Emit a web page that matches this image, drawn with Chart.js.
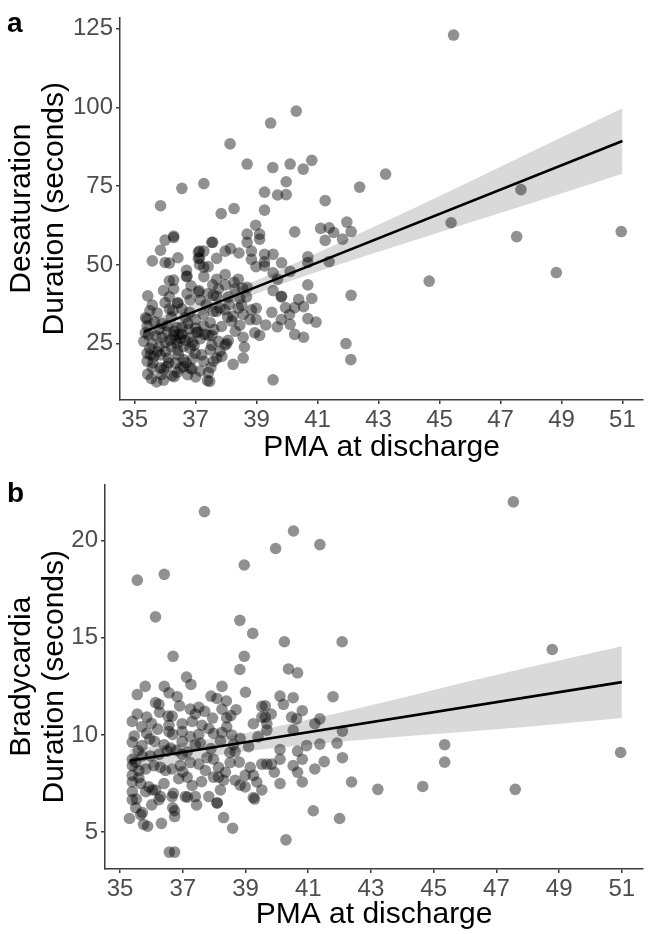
<!DOCTYPE html>
<html>
<head>
<meta charset="utf-8">
<script src="https://cdn.jsdelivr.net/npm/chart.js@4.4.1/dist/chart.umd.min.js"></script>
<style>
  body { margin: 0; background: #fff; }
  .wrap { position: relative; width: 649px; height: 934px; }
  canvas { position: absolute; left: 0; }
</style>
</head>
<body>
<div class="wrap">
  <canvas id="chartA" width="649" height="467" style="top:0"></canvas>
  <canvas id="chartB" width="649" height="467" style="top:467px"></canvas>
</div>
<script>
// panel a: PMA at discharge vs desaturation duration
var pmaA = [45.46,39.46,40.30,38.13,38.69,39.53,40.10,40.53,40.81,43.23,47.67,45.38,47.53,50.96,44.66,48.83,
  36.55,37.27,35.85,37.84,38.26,39.26,39.69,39.97,39.97,39.26,41.25,42.38,40.25,41.10,41.38,41.53,41.96,42.10,
  41.82,41.25,38.97,38.69,39.10,39.10,38.69,37.56,37.97,38.14,38.42,38.83,38.83,39.26,39.26,39.26,39.54,39.82,
  38.98,37.13,37.13,37.27,37.13,37.27,37.41,37.69,35.85,36.00,36.28,35.58,36.00,36.14,36.42,36.70,36.70,36.85,
  36.14,36.28,36.28,35.43,36.14,36.42,37.27,37.56,37.69,37.97,37.97,38.26,38.40,38.54,38.69,39.54,39.82,39.54,
  39.69,40.10,40.68,40.68,41.38,40.68,40.38,40.81,42.10,37.69,37.40,36.82,
  35.58,36.00,36.14,36.41,36.55,37.11,37.15,37.58,37.69,37.96,38.23,38.40,38.56,38.67,38.83,38.99,38.94,39.10,
  38.45,38.18,38.05,39.81,39.95,40.25,40.54,40.68,40.95,40.08,39.81,39.68,40.10,40.25,40.54,41.93,42.09,39.54,
  35.36,35.41,35.30,35.41,35.41,35.43,35.72,35.58,35.63,35.80,35.90,36.07,36.17,36.28,36.39,36.01,35.85,36.12,
  35.95,36.23,36.44,36.50,36.66,36.69,36.82,36.99,37.04,37.15,36.88,37.15,37.26,37.42,37.39,37.53,37.53,37.58,
  37.80,37.86,38.02,38.07,38.23,38.56,36.39,36.55,36.77,36.66,36.99,37.26,36.07,35.80,37.26,37.48,35.58,
  35.88,36.30,36.74,37.46,36.28,36.72,37.53,37.09,37.09,35.95,35.74,35.41,36.72,37.09,38.29,37.75,38.07,38.45,
  38.51,37.80,37.58,38.78,38.99,38.56,37.96,37.42,37.09,37.48,37.69,36.82,35.85,35.52,
  36.20,36.50,36.30,36.60,36.80,36.00,35.70,36.90,36.40,35.50,35.45,36.10,36.60,35.60,36.35,36.95,35.75,36.55,
  35.35,35.50,35.65,35.90,36.20,36.45,36.75,37.00,37.30,37.60,37.85,38.30,36.05,36.35,36.60,36.90,37.20,37.50,
  35.55,35.95,36.40,37.00,37.75,38.60,39.30,39.50,38.10,37.35,36.80,36.25];
var desatA = [122.9,95.0,98.8,88.4,82.0,80.9,82.0,80.4,83.2,78.8,73.9,63.4,59.0,60.6,44.9,47.6,
  74.3,75.8,68.8,66.3,67.9,73.1,72.2,72.3,76.4,67.4,70.4,74.7,60.5,61.6,61.8,60.3,63.6,60.6,
  58.2,57.8,62.6,59.8,59.8,58.2,57.2,57.2,54.4,55.2,53.8,54.4,51.8,53.4,51.0,49.7,53.4,50.7,
  49.5,54.4,52.2,54.4,50.1,49.3,49.5,52.1,54.7,57.9,59.2,51.3,50.8,50.6,52.3,48.3,46.3,43.4,
  45.0,45.2,42.4,40.2,39.9,38.1,46.3,43.7,45.5,47.0,43.7,44.5,45.5,42.7,42.9,41.9,40.1,47.5,
  45.5,48.0,52.6,50.8,51.1,43.7,39.1,39.4,40.4,40.1,40.9,38.9,
  37.3,38.1,36.1,37.8,36.1,41.9,38.9,40.4,35.3,35.8,33.8,36.3,34.3,39.9,35.8,32.7,28.5,27.7,
  30.9,32.2,33.5,39.9,36.5,36.5,36.8,33.0,31.9,34.3,32.7,30.4,31.2,28.0,27.1,25.1,20.0,13.6,
  33.3,30.7,25.8,22.0,19.5,15.4,12.9,17.4,21.0,24.1,27.1,28.7,26.1,27.7,25.1,22.6,21.5,19.0,
  17.0,14.9,21.5,17.3,26.1,19.0,23.6,22.0,28.7,26.6,17.0,16.4,19.5,15.9,13.4,27.7,24.6,19.5,
  22.6,21.0,25.1,26.1,18.5,20.5,30.2,30.2,29.7,33.3,32.7,34.3,30.7,29.7,30.7,31.7,25.1,
  15.2,14.6,15.2,13.1,58.7,46.5,57.2,54.1,52.1,41.9,34.8,32.9,40.9,41.4,42.4,42.4,39.9,39.4,
  37.3,36.3,35.3,32.7,36.3,27.1,24.6,27.7,28.7,23.1,20.5,17.4,17.4,21.5,
  24.0,26.8,29.0,24.2,27.0,25.5,27.5,25.5,23.0,23.5,28.0,20.5,20.0,19.0,26.5,24.5,22.5,28.0,
  28.5,35.5,32.0,31.5,33.5,28.0,31.5,30.0,28.0,29.5,30.5,29.0,17.8,19.0,17.8,20.3,21.5,17.5,
  14.0,13.5,16.0,14.5,25.8,24.0,31.0,35.0,37.5,37.5,35.0,35.5];
var fitXA = [35.3, 51];
var fitYA = [28.8, 89.3];
var bandXA = [35.3, 36, 37, 38, 39, 40, 42, 44, 46, 48, 51];
var bandLoA = [25.7, 28.8, 33.1, 37.3, 41.0, 44.6, 51.1, 57.3, 63.5, 69.6, 78.9];
var bandHiA = [31.9, 34.2, 37.7, 41.3, 45.2, 49.4, 58.3, 67.3, 76.5, 85.8, 99.7];
var yTicksA = [25, 50, 75, 100, 125];

// panel b: PMA at discharge vs bradycardia duration
var pmaB = [47.54,48.78,45.35,45.35,44.65,43.22,47.60,50.96,37.69,40.53,41.37,39.96,38.96,35.55,36.41,36.13,
  38.82,39.23,40.24,42.08,36.69,38.96,38.82,40.37,40.66,37.12,37.26,36.41,38.25,
  35.30,35.66,35.75,35.88,36.32,36.57,36.74,36.74,36.74,38.30,38.59,40.29,41.16,42.00,39.29,37.44,37.15,38.10,
  36.01,35.52,
  35.55,36.56,36.82,38.09,38.39,36.13,36.24,36.26,35.55,35.39,35.85,36.53,36.66,37.24,37.51,37.40,37.70,37.95,
  38.25,38.53,38.40,39.25,39.52,39.63,35.69,35.85,35.39,35.58,36.10,36.40,36.56,36.56,36.98,36.98,36.98,36.68,
  37.24,37.51,37.61,37.83,37.98,38.25,38.40,38.56,38.83,37.56,38.62,38.67,36.61,36.98,35.71,35.39,35.97,36.24,
  36.50,37.14,37.40,37.77,37.98,37.24,35.39,35.60,35.82,36.08,36.29,36.45,36.66,36.87,37.14,36.92,37.51,37.72,
  37.98,38.14,38.36,38.51,38.67,38.83,38.99,38.99,39.15,39.25,39.36,39.52,39.25,39.68,38.14,38.30,38.20,38.09,
  37.83,37.40,37.08,36.66,36.24,36.03,35.82,35.39,35.39,35.39,35.66,35.92,36.13,36.29,35.39,35.50,35.71,36.68,
  40.10,40.52,40.21,40.81,41.37,41.79,41.21,42.09,41.92,40.95,41.37,41.51,42.09,41.21,40.66,40.81,40.10,40.10,
  40.52,40.66,40.81,40.10,39.92,39.83,39.52,42.38,39.63,39.82,39.52,39.68,39.68,40.47,40.63,40.52,
  35.45,35.70,35.95,36.20,36.80,37.00,37.30,37.60,37.90,38.20,38.50,38.80,39.10,39.40,36.40,36.70,35.60,35.50,
  36.00,36.90,37.90,38.70,39.00,37.30,35.80];
var bradyB = [22.0,14.4,9.5,8.6,7.35,7.2,7.2,9.1,21.5,20.5,19.8,19.6,18.75,17.97,18.27,16.08,
  15.9,15.23,14.8,14.8,14.05,14.05,13.37,13.4,13.2,12.98,12.6,12.5,12.5,
  5.7,5.9,5.4,5.3,5.45,3.97,3.97,5.8,6.1,5.75,5.2,4.6,6.1,5.7,6.7,6.4,6.8,6.5,
  6.4,6.7,
  12.08,12.17,11.97,11.88,11.75,11.67,11.58,11.17,11.08,10.7,10.92,10.97,10.97,11.33,11.42,11.08,11.22,10.87,
  11.33,11.0,10.88,10.58,11.47,10.92,10.42,10.08,9.63,9.2,9.67,9.5,10.5,10.17,10.58,10.17,9.67,10.03,
  9.92,10.03,10.5,10.33,10.08,10.13,10.42,10.0,9.83,9.58,9.5,9.13,9.33,9.0,8.92,8.75,8.92,9.0,
  9.17,9.13,9.5,8.83,8.75,8.58,8.42,8.17,8.25,8.42,8.33,8.17,8.25,7.75,7.83,8.42,8.5,8.17,
  7.83,8.33,8.08,8.58,7.67,7.42,7.33,7.92,8.33,7.92,7.58,7.17,6.78,8.5,7.83,7.67,7.17,6.5,
  6.83,6.83,6.83,6.83,6.67,7.17,7.08,7.08,7.58,7.92,7.5,7.33,7.17,6.83,6.67,6.25,6.0,6.25,
  12.0,11.92,11.58,11.25,10.83,11.97,10.58,10.2,9.58,9.45,9.53,8.63,8.83,8.25,9.17,8.75,9.25,8.75,
  8.42,8.08,7.58,7.5,8.08,8.5,8.5,7.58,11.5,11.08,10.92,10.58,10.25,10.92,10.83,10.25,
  9.95,9.45,9.8,10.3,9.2,8.1,7.4,7.6,9.3,9.7,9.1,8.6,9.4,9.9,7.5,7.0,7.8,8.6,
  10.6,11.5,12.0,11.3,12.2,10.7,12.5];
var fitXB = [35.3, 51];
var fitYB = [8.67, 12.72];
var bandXB = [35.3, 36, 37, 38, 39, 40, 42, 44, 46, 48, 51];
var bandLoB = [8.07, 8.30, 8.63, 8.92, 9.16, 9.34, 9.65, 9.92, 10.17, 10.42, 10.87];
var bandHiB = [9.27, 9.40, 9.59, 9.82, 10.10, 10.44, 11.15, 11.92, 12.71, 13.48, 14.57];
var yTicksB = [5, 10, 15, 20];

var xTicks = [35, 37, 39, 41, 43, 45, 47, 49, 51];
var xTitle = 'PMA at discharge';

function pts(xs, ys) {
  return xs.map(function (x, i) { return {x: x, y: ys[i]}; });
}

var panelLabel = {
  id: 'panelLabel',
  afterDraw: function (chart, args, opts) {
    var ctx = chart.ctx;
    ctx.save();
    ctx.font = 'bold 28px "Liberation Sans", Arial, sans-serif';
    ctx.fillStyle = '#000';
    ctx.textBaseline = 'alphabetic';
    ctx.fillText(opts.text, 7, opts.y);
    ctx.restore();
  }
};

function makePanel(id, o) {
  var tickColor = '#3c3c3c';
  var fam = '"Liberation Sans", Arial, sans-serif';
  new Chart(id, {
    type: 'scatter',
    data: {
      datasets: [
        {type: 'line', data: pts(o.bandX, o.bandLo), borderWidth: 0, pointRadius: 0, fill: false, order: 4},
        {type: 'line', data: pts(o.bandX, o.bandHi), borderWidth: 0, pointRadius: 0,
          fill: '-1', backgroundColor: '#d9d9d9', order: 3},
        {data: pts(o.xs, o.ys), pointRadius: 5.8, pointBorderWidth: 0,
          backgroundColor: 'rgba(0,0,0,0.43)', order: 2},
        {type: 'line', data: pts(o.fitX, o.fitY), borderColor: '#000', borderWidth: 2.6,
          pointRadius: 0, fill: false, order: 1}
      ]
    },
    options: {
      responsive: false,
      animation: false,
      devicePixelRatio: 1,
      layout: {padding: {top: 5, right: 4, left: 0, bottom: 0}},
      plugins: {
        legend: {display: false},
        tooltip: {enabled: false},
        panelLabel: {text: o.label, y: o.labelY}
      },
      scales: {
        x: {
          type: 'linear', min: 34.52, max: 51.68,
          afterBuildTicks: function (s) { s.ticks = xTicks.map(function (v) { return {value: v}; }); },
          afterFit: function (s) { s.height = o.xAxisH; },
          border: {display: true, color: tickColor, width: 1.5},
          grid: {display: true, drawOnChartArea: false, drawTicks: true, tickLength: 4, color: tickColor, lineWidth: 1.5},
          ticks: {color: '#4d4d4d', padding: 2, maxRotation: 0, autoSkip: false,
            font: {family: fam, size: 24}},
          title: {display: true, text: xTitle, color: '#000', padding: {top: 0, bottom: 1},
            font: {family: fam, size: 30, lineHeight: 1.2}}
        },
        y: {
          type: 'linear', min: o.yMin, max: o.yMax,
          afterBuildTicks: function (s) { s.ticks = o.yTicks.map(function (v) { return {value: v}; }); },
          afterFit: function (s) { s.width = o.yAxisW; },
          border: {display: true, color: tickColor, width: 1.5},
          grid: {display: true, drawOnChartArea: false, drawTicks: true, tickLength: 4, color: tickColor, lineWidth: 1.5},
          ticks: {color: '#4d4d4d', padding: 3, autoSkip: false,
            font: {family: fam, size: 24}},
          title: {display: true, text: o.yTitle, color: '#000', padding: {top: 5.5, bottom: 0},
            font: {family: fam, size: 30, lineHeight: 1.1}}
        }
      }
    },
    plugins: [panelLabel]
  });
}

makePanel('chartA', {
  xs: pmaA, ys: desatA, fitX: fitXA, fitY: fitYA,
  bandX: bandXA, bandLo: bandLoA, bandHi: bandHiA,
  yTicks: yTicksA, yMin: 7.2, yMax: 128.5,
  yTitle: ['Desaturation', 'Duration (seconds)'],
  yAxisW: 120, xAxisH: 67, label: 'a', labelY: 32
});

makePanel('chartB', {
  xs: pmaB, ys: bradyB, fitX: fitXB, fitY: fitYB,
  bandX: bandXB, bandLo: bandLoB, bandHi: bandHiB,
  yTicks: yTicksB, yMin: 3.1, yMax: 22.9,
  yTitle: ['Bradycardia', 'Duration (seconds)'],
  yAxisW: 105, xAxisH: 65, label: 'b', labelY: 35
});
</script>
</body>
</html>
